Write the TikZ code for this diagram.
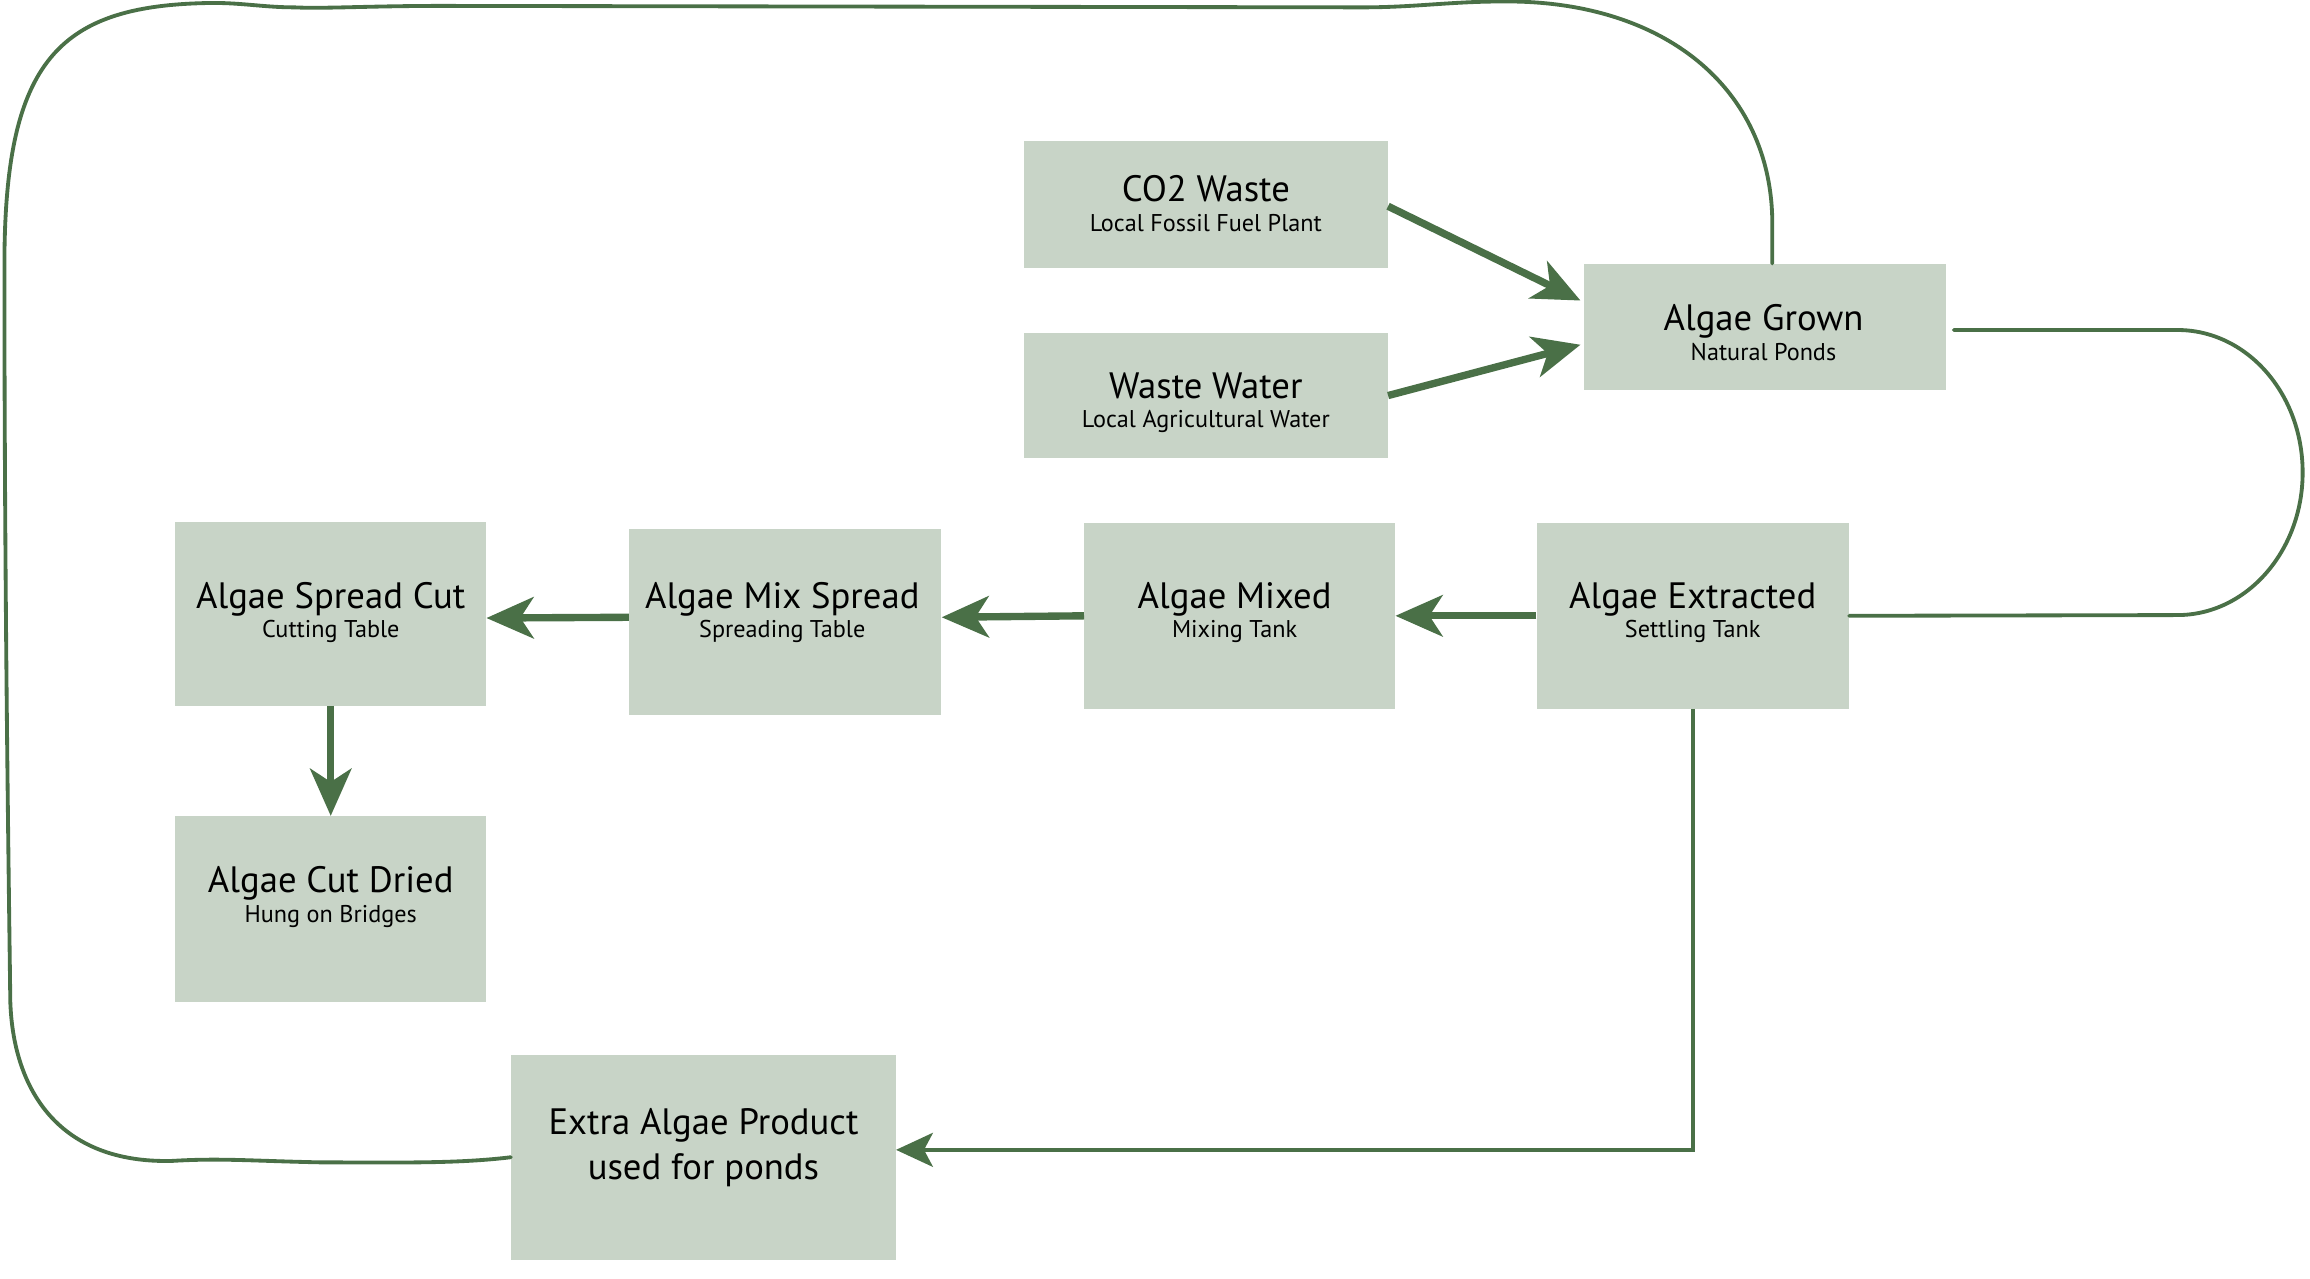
\documentclass[tikz,border=0pt]{standalone}
\usepackage{fontspec}
\setmainfont{PT Sans}
\usetikzlibrary{arrows.meta}
\definecolor{boxfill}{RGB}{200,212,199}
\definecolor{linegreen}{RGB}{74,112,71}
\tikzset{
  box/.style={fill=boxfill, draw=none, inner sep=0pt},
  maintxt/.style={inner sep=0pt, anchor=base, font=\fontsize{25}{30}\selectfont},
  subtxt/.style={inner sep=0pt, anchor=base, font=\fontsize{16.5}{20}\selectfont},
  thickarr/.style={draw=linegreen, line width=5bp, -{Stealth[length=32bp, width=28bp, inset=9bp]}},
  thinarr/.style={draw=linegreen, line width=2.8bp, -{Stealth[length=25bp, width=23bp, inset=6bp]}},
  loopline/.style={draw=linegreen, line width=2.6bp, line cap=round, line join=round},
}
\begin{document}
\begin{tikzpicture}[x=1bp, y=-1bp]
\useasboundingbox (0,0) rectangle (1568,868);

% boxes
\node[box, minimum width=247bp, minimum height=86bp]  (co2)   at (818.5,139)   {};
\node[box, minimum width=247bp, minimum height=85bp]  (ww)    at (818.5,268.5) {};
\node[box, minimum width=246bp, minimum height=86bp]  (grown) at (1198,222)    {};
\node[box, minimum width=212bp, minimum height=126bp] (extr)  at (1149,418)    {};
\node[box, minimum width=211bp, minimum height=126bp] (mixed) at (841.5,418)   {};
\node[box, minimum width=212bp, minimum height=126bp] (mixsp) at (533,422)     {};
\node[box, minimum width=211bp, minimum height=125bp] (spcut) at (224.5,416.5) {};
\node[box, minimum width=211bp, minimum height=126bp] (dried) at (224.5,617)   {};
\node[box, minimum width=261bp, minimum height=139bp] (extra) at (477.5,785.5) {};

% texts
\node[maintxt] (co2a) at (818.5,136.5) {CO2 Waste};
\node[subtxt]  (co2b) at (818.5,157)   {Local Fossil Fuel Plant};
\node[maintxt] (wwa)  at (818.5,270.5) {Waste Water};
\node[subtxt]  (wwb)  at (818.5,290.5) {Local Agricultural Water};
\node[maintxt] (grna) at (1197,224.5)  {Algae Grown};
\node[subtxt]  (grnb) at (1197,244.5)  {Natural Ponds};
\node[maintxt] (exta) at (1149,413)    {Algae Extracted};
\node[subtxt]  (extb) at (1149,433)    {Settling Tank};
\node[maintxt] (mixa) at (838,413)     {Algae Mixed};
\node[subtxt]  (mixb) at (838,433)     {Mixing Tank};
\node[maintxt] (mspa) at (531,413)     {Algae Mix Spread};
\node[subtxt]  (mspb) at (531,433)     {Spreading Table};
\node[maintxt] (spca) at (224.5,413)   {Algae Spread Cut};
\node[subtxt]  (spcb) at (224.5,433)   {Cutting Table};
\node[maintxt] (drya) at (224.5,606)   {Algae Cut Dried};
\node[subtxt]  (dryb) at (224.5,626.5) {Hung on Bridges};
\node[maintxt] (xtra) at (477.5,770)   {Extra Algae Product};
\node[maintxt] (xtrb) at (477.5,800.5) {used for ponds};

% thick arrows
\draw[thickarr] ([yshift=-1bp]co2.east) -- ([xshift=-2bp,yshift=18bp]grown.west);
\draw[thickarr] (ww.east) -- ([xshift=-2bp,yshift=-12bp]grown.west);
\draw[thickarr] (extr.west) -- (mixed.east);
\draw[thickarr] (mixed.west) -- ([yshift=3bp]mixsp.east);
\draw[thickarr] ([yshift=3bp]mixsp.west) -- ([yshift=-3bp]spcut.east);
\draw[thickarr] (spcut.south) -- (dried.north);

% extracted to extra product
\draw[thinarr] (extr.south) |- ([yshift=5bp]extra.east);

% right loop from grown to extracted
\draw[loopline] ([xshift=5bp,yshift=-2bp]grown.east) -- (1478,224)
  .. controls (1525,224) and (1563,267) .. (1563,320.75)
  .. controls (1563,374) and (1525,417.5) .. (1478,417.5)
  -- (extr.east);

% big return loop from extra product to grown
\draw[loopline] (extra.west)
  .. controls (310,790) and (270,789) .. (218,789)
  .. controls (170,788) and (150,786) .. (117,788)
  .. controls (40,790) and (9,740) .. (7,680)
  .. controls (6,600) and (3,400) .. (3,180)
  .. controls (3,40) and (40,3) .. (145,2)
  .. controls (165,2) and (180,5) .. (200,5)
  .. controls (220,6) and (250,4) .. (300,4)
  -- (925,5)
  .. controls (960,5) and (985,1) .. (1020,1)
  .. controls (1130,0) and (1202,60) .. (1203,150)
  -- ([xshift=5bp]grown.north);
\end{tikzpicture}
\end{document}
